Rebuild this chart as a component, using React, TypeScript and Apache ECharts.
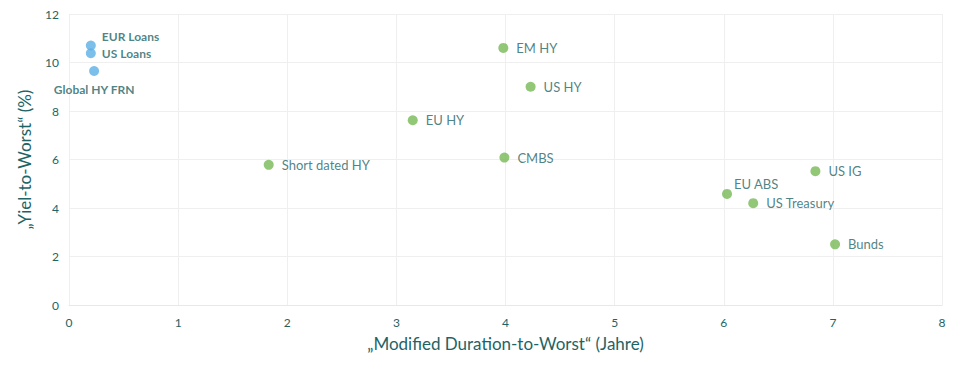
import React, { useEffect, useRef } from "react";
import * as echarts from "echarts";

const loanNames = ["EUR Loans", "US Loans", "Global HY FRN"];
const loanDuration = [0.2, 0.2, 0.23];
const loanYield = [10.7, 10.38, 9.65];

const bondNames = ["EM HY", "US HY", "EU HY", "CMBS", "Short dated HY", "EU ABS", "US Treasury", "US IG", "Bunds"];
const bondDuration = [3.98, 4.23, 3.15, 3.99, 1.83, 6.03, 6.27, 6.84, 7.02];
const bondYield = [10.6, 9.0, 7.62, 6.08, 5.78, 4.58, 4.2, 5.52, 2.5];

const xTicks = [0, 1, 2, 3, 4, 5, 6, 7, 8];
const yTicks = [0, 2, 4, 6, 8, 10, 12];

const TEXT = "#1e6466";
const FONT = "Lato";

const labelPos: Record<string, any> = {
  "EUR Loans": { position: "right", offset: [0, -9] },
  "US Loans": { position: "right", offset: [0, 0] },
  "Global HY FRN": { position: "bottom", offset: [0, 2] },
  "EU ABS": { position: "right", offset: [-6, -10] },
};

export default function App() {
  const ref = useRef<HTMLDivElement>(null);
  useEffect(() => {
    if (!ref.current) return;
    const chart = echarts.init(ref.current, null, { renderer: "svg" });
    const mk = (names: string[], xs: number[], ys: number[]) =>
      names.map((n, i) => ({
        name: n,
        value: [xs[i], ys[i]],
        label: labelPos[n] || { position: "right", offset: [0, 0] },
      }));
    chart.setOption({
      animation: false,
      textStyle: { fontFamily: FONT },
      grid: { left: 58, right: 10, top: 6, bottom: 58 },
      xAxis: {
        type: "value",
        min: 0,
        max: 8,
        interval: 1,
        name: "„Modified Duration-to-Worst“ (Jahre)",
        nameLocation: "middle",
        nameGap: 30,
        nameTextStyle: { color: TEXT, fontSize: 17, fontFamily: FONT },
        axisLine: { show: true, lineStyle: { color: "#e8e8e8" } },
        axisTick: { show: false },
        axisLabel: { color: TEXT, fontSize: 12, margin: 11, fontFamily: FONT, formatter: (v: number) => (xTicks.includes(v) ? String(v) : "") },
        splitLine: { show: true, lineStyle: { color: "#efefef" } },
      },
      yAxis: {
        type: "value",
        min: 0,
        max: 12,
        interval: 2,
        name: "„Yiel-to-Worst“ (%)",
        nameLocation: "middle",
        nameGap: 36,
        nameRotate: 90,
        nameTextStyle: { color: TEXT, fontSize: 17, fontFamily: FONT },
        axisLine: { show: false },
        axisTick: { show: false },
        axisLabel: { color: TEXT, fontSize: 12, margin: 10, fontFamily: FONT, formatter: (v: number) => (yTicks.includes(v) ? String(v) : "") },
        splitLine: { show: true, lineStyle: { color: "#efefef" } },
      },
      series: [
        {
          type: "scatter",
          symbolSize: 10,
          itemStyle: { color: "#5dafe6" },
          label: { show: true, formatter: "{b}", color: TEXT, fontSize: 12, fontWeight: "bold", fontFamily: FONT, distance: 6 },
          data: mk(loanNames, loanDuration, loanYield),
        },
        {
          type: "scatter",
          symbolSize: 10,
          itemStyle: { color: "#77b955" },
          label: { show: true, formatter: "{b}", color: TEXT, fontSize: 13, fontFamily: FONT, distance: 8 },
          data: mk(bondNames, bondDuration, bondYield),
        },
      ],
    });
    return () => chart.dispose();
  }, []);
  return <div ref={ref} style={{ width: 944, height: 355 }} />;
}
